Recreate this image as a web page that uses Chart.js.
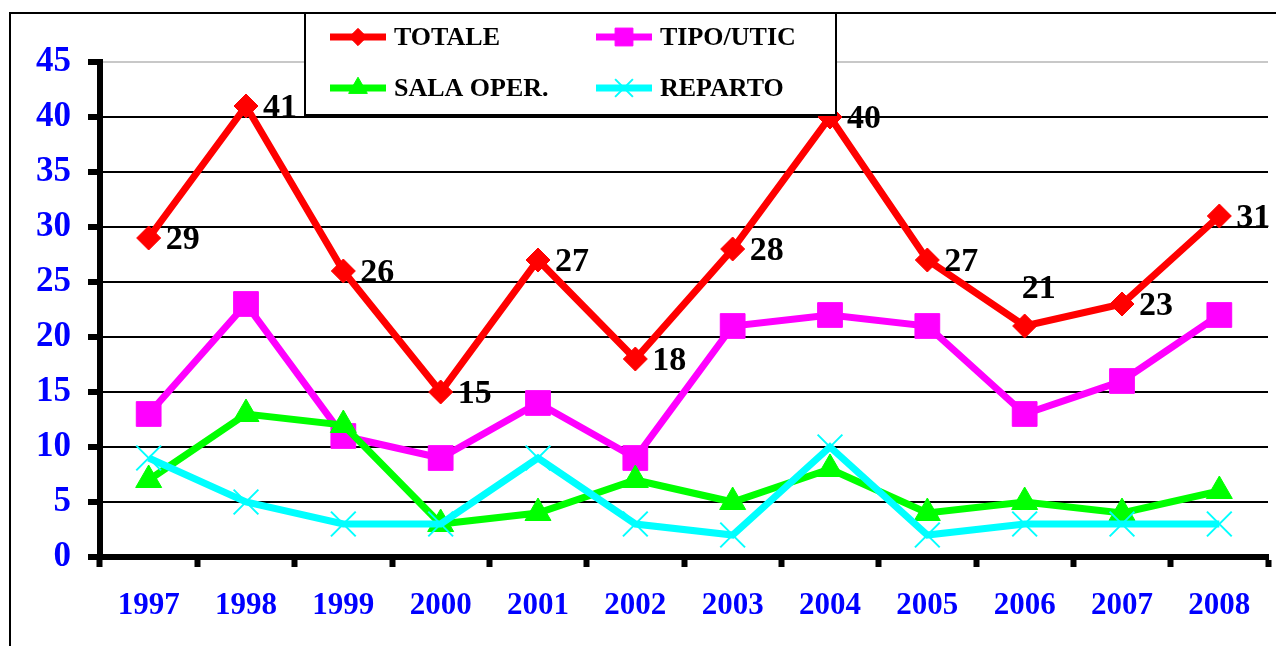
<!DOCTYPE html>
<html>
<head>
<meta charset="utf-8">
<script src="https://cdn.jsdelivr.net/npm/chart.js@4"></script>
<style>
  html, body { margin: 0; padding: 0; background: #fff; }
</style>
</head>
<body>
<canvas id="myChart" width="1276" height="646"></canvas>
<script>
// data
const years = ["1997", "1998", "1999", "2000", "2001", "2002", "2003", "2004", "2005", "2006", "2007", "2008"];
const totale = [29, 41, 26, 15, 27, 18, 28, 40, 27, 21, 23, 31];
const tipoUtic = [13, 23, 11, 9, 14, 9, 21, 22, 21, 13, 16, 22];
const salaOper = [7, 13, 12, 3, 4, 7, 5, 8, 4, 5, 4, 6];
const reparto = [9, 5, 3, 3, 9, 3, 2, 10, 2, 3, 3, 3];
const yTicks = [0, 5, 10, 15, 20, 25, 30, 35, 40, 45];

const serif = "'Liberation Serif', 'Times New Roman', serif";

// white background + outer frame
const framePlugin = {
  id: "frame",
  beforeDraw(chart) {
    const ctx = chart.ctx;
    ctx.save();
    ctx.fillStyle = "#fff";
    ctx.fillRect(0, 0, chart.width, chart.height);
    ctx.strokeStyle = "#000";
    ctx.lineWidth = 2;
    ctx.strokeRect(10, 13, 1400, 1000);
    ctx.restore();
  },
};

// value labels on the TOTALE line
const labelPlugin = {
  id: "valueLabels",
  afterDatasetsDraw(chart) {
    const ctx = chart.ctx;
    const meta = chart.getDatasetMeta(0);
    const vals = chart.data.datasets[0].data;
    ctx.save();
    ctx.fillStyle = "#000";
    ctx.font = "bold 34px " + serif;
    ctx.textBaseline = "middle";
    meta.data.forEach((pt, i) => {
      if (i === 9) {
        ctx.textAlign = "center";
        ctx.fillText(vals[i], pt.x + 14, pt.y - 37);
      } else {
        ctx.textAlign = "left";
        ctx.fillText(vals[i], pt.x + 17, pt.y + 2);
      }
    });
    ctx.restore();
  },
};

// boxed legend at the top
const legendPlugin = {
  id: "boxLegend",
  afterDraw(chart) {
    const ctx = chart.ctx;
    ctx.save();
    ctx.fillStyle = "#fff";
    ctx.fillRect(305, 13, 531, 102);
    ctx.strokeStyle = "#000";
    ctx.lineWidth = 2;
    ctx.strokeRect(305, 13, 531, 102);
    chart.data.datasets.forEach((ds, i) => {
      const x0 = 330 + (i % 2) * 266;
      const y = 37 + Math.floor(i / 2) * 51;
      ctx.strokeStyle = ds.borderColor;
      ctx.fillStyle = ds.borderColor;
      ctx.lineWidth = ds.borderWidth;
      ctx.beginPath();
      ctx.moveTo(x0, y);
      ctx.lineTo(x0 + 56, y);
      ctx.stroke();
      ctx.lineWidth = ds.pointBorderWidth;
      Chart.helpers.drawPoint(ctx, {
        pointStyle: ds.pointStyle,
        radius: ds.pointRadius * 0.72,
        rotation: 0,
        borderWidth: ds.pointBorderWidth,
      }, x0 + 28, y);
      ctx.fillStyle = "#000";
      ctx.font = "bold 26px " + serif;
      ctx.textAlign = "left";
      ctx.textBaseline = "middle";
      ctx.fillText(ds.label, x0 + 64, y + 1);
    });
    ctx.restore();
  },
};

function ds(label, data, color, style, radius, order) {
  return {
    label,
    data,
    borderColor: color,
    backgroundColor: color,
    borderWidth: 7,
    pointStyle: style,
    pointRadius: radius,
    pointHoverRadius: radius,
    pointBackgroundColor: color,
    pointBorderColor: color,
    pointBorderWidth: style === "crossRot" ? 2 : 1,
    tension: 0,
    order,
  };
}

const data = {
  labels: years,
  datasets: [
    ds("TOTALE", totale, "#ff0000", "rectRot", 12, 3),
    ds("TIPO/UTIC", tipoUtic, "#ff00ff", "rect", 17.5, 2),
    ds("SALA OPER.", salaOper, "#00ff00", "triangle", 15, 1),
    ds("REPARTO", reparto, "#00ffff", "crossRot", 17.5, 0),
  ],
};

const config = {
  type: "line",
  data,
  options: {
    responsive: false,
    animation: false,
    devicePixelRatio: 1,
    layout: { autoPadding: false, padding: { top: 62, right: 8, left: 0, bottom: 0 } },
    plugins: {
      legend: { display: false },
      tooltip: { enabled: false },
    },
    scales: {
      x: {
        offset: true,
        afterFit: (s) => {
          s.height = 89;
          s.paddingLeft = 0;
          s.paddingRight = 0;
        },
        grid: {
          offset: true,
          drawOnChartArea: false,
          tickLength: 10,
          tickWidth: 6,
          tickColor: "#000",
        },
        border: { color: "#000", width: 6 },
        ticks: {
          color: "#0000ff",
          padding: 20,
          maxRotation: 0,
          font: { family: serif, size: 31, weight: "bold" },
        },
      },
      y: {
        min: 0,
        max: 45,
        afterFit: (s) => {
          s.width = 100;
          s.paddingTop = 0;
          s.paddingBottom = 0;
        },
        afterBuildTicks: (s) => { s.ticks = yTicks.map((v) => ({ value: v })); },
        grid: {
          color: (c) => (c.tick && c.tick.value === 45 ? "#c8c8c8" : "#000"),
          lineWidth: 2,
          tickLength: 12,
          tickWidth: 6,
          tickColor: "#000",
        },
        border: { color: "#000", width: 6 },
        ticks: {
          color: "#0000ff",
          padding: 17,
          font: { family: serif, size: 35, weight: "bold" },
        },
      },
    },
  },
  plugins: [framePlugin, labelPlugin, legendPlugin],
};

const myChart = new Chart(document.getElementById("myChart"), config);
</script>
</body>
</html>
